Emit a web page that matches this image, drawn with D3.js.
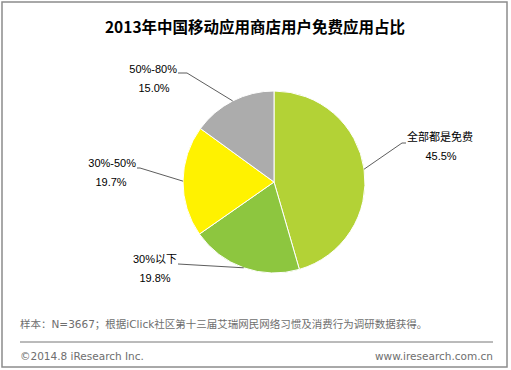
<!DOCTYPE html>
<html lang="zh">
<head>
<meta charset="UTF-8">
<title>2013年中国移动应用商店用户免费应用占比</title>
<script src="https://d3js.org/d3.v7.min.js"></script>
<style>
    body { margin: 0; background: #fff; }
    text { font-family: "Liberation Sans", "Noto Sans CJK SC", sans-serif; }
    .title { font-family: "Noto Sans CJK SC", sans-serif; font-weight: bold; font-size: 15.5px; fill: #000; }
    .lbl { font-size: 11px; fill: #000; }
    .foot { font-family: "DejaVu Sans", "Noto Sans CJK SC", sans-serif; font-size: 10.5px; fill: #6e6e6e; }
</style>
</head>
<body>
<div id="chart"></div>
<script>
    var categories = ["全部都是免费", "30%以下", "30%-50%", "50%-80%"];
    var shares = [45.5, 19.8, 19.7, 15.0];
    var colors = ["#b3d236", "#8dc63f", "#fff200", "#acacac"];
    // label anchor (text start / end), leader bend point
    var labelPos = [
        {x: 407, y: 141, anchor: "start", bend: [402, 143], cx: 441},
        {x: 177, y: 263, anchor: "end", bend: [178, 264], cx: 155},
        {x: 136, y: 167, anchor: "end", bend: [140, 168], cx: 111},
        {x: 177, y: 73, anchor: "end", bend: [187, 73], cx: 154}
    ];

    var w = 511, h = 370;
    var cx = 274, cy = 182, r = 91;

    var svg = d3.select("#chart").append("svg")
        .attr("width", w).attr("height", h);

    // frame
    svg.append("rect")
        .attr("x", 2).attr("y", 2)
        .attr("width", 505).attr("height", 365)
        .attr("fill", "#fff")
        .attr("stroke", "#8c8c8c")
        .attr("stroke-width", 1.5);

    svg.append("text")
        .attr("class", "title")
        .attr("x", 255).attr("y", 33)
        .attr("text-anchor", "middle")
        .text("2013年中国移动应用商店用户免费应用占比");

    var pie = d3.pie().sort(null).value(function(d) { return d; });
    var arc = d3.arc().innerRadius(0).outerRadius(r);
    var arcs = pie(shares);

    var g = svg.append("g").attr("transform", "translate(" + cx + "," + cy + ")");
    g.selectAll("path")
        .data(arcs)
        .enter()
        .append("path")
        .attr("d", arc)
        .attr("fill", function(d, i) { return colors[i]; })
        .attr("stroke", "#fff")
        .attr("stroke-width", 1);

    // leader lines
    var edge = d3.arc().innerRadius(r).outerRadius(r);
    svg.selectAll(".leader")
        .data(arcs)
        .enter()
        .append("polyline")
        .attr("class", "leader")
        .attr("fill", "none")
        .attr("stroke", "#333")
        .attr("stroke-width", 0.8)
        .attr("points", function(d, i) {
            var p = edge.centroid(d);
            var lp = labelPos[i];
            var sx = lp.anchor === "start" ? lp.x - 1 : lp.x + 1;
            return [[sx, lp.bend[1]], lp.bend, [cx + p[0], cy + p[1]]].map(function(q) { return q.join(","); }).join(" ");
        });

    svg.selectAll(".name")
        .data(categories)
        .enter()
        .append("text")
        .attr("class", "lbl")
        .attr("x", function(d, i) { return labelPos[i].x; })
        .attr("y", function(d, i) { return labelPos[i].y; })
        .attr("text-anchor", function(d, i) { return labelPos[i].anchor; })
        .text(function(d) { return d; });

    svg.selectAll(".val")
        .data(shares)
        .enter()
        .append("text")
        .attr("class", "lbl")
        .attr("x", function(d, i) { return labelPos[i].cx; })
        .attr("y", function(d, i) { return labelPos[i].y + 19; })
        .attr("text-anchor", "middle")
        .text(function(d) { return d.toFixed(1) + "%"; });

    // footer
    svg.append("text")
        .attr("class", "foot")
        .attr("x", 20).attr("y", 328)
        .text("样本：N=3667；根据iClick社区第十三届艾瑞网民网络习惯及消费行为调研数据获得。");

    svg.append("line")
        .attr("x1", 20).attr("x2", 493)
        .attr("y1", 342).attr("y2", 342)
        .attr("stroke", "#777").attr("stroke-width", 1);

    svg.append("text")
        .attr("class", "foot")
        .attr("x", 20).attr("y", 360)
        .text("©2014.8 iResearch Inc.");

    svg.append("text")
        .attr("class", "foot")
        .attr("x", 493).attr("y", 360)
        .attr("text-anchor", "end")
        .text("www.iresearch.com.cn");
</script>
</body>
</html>
